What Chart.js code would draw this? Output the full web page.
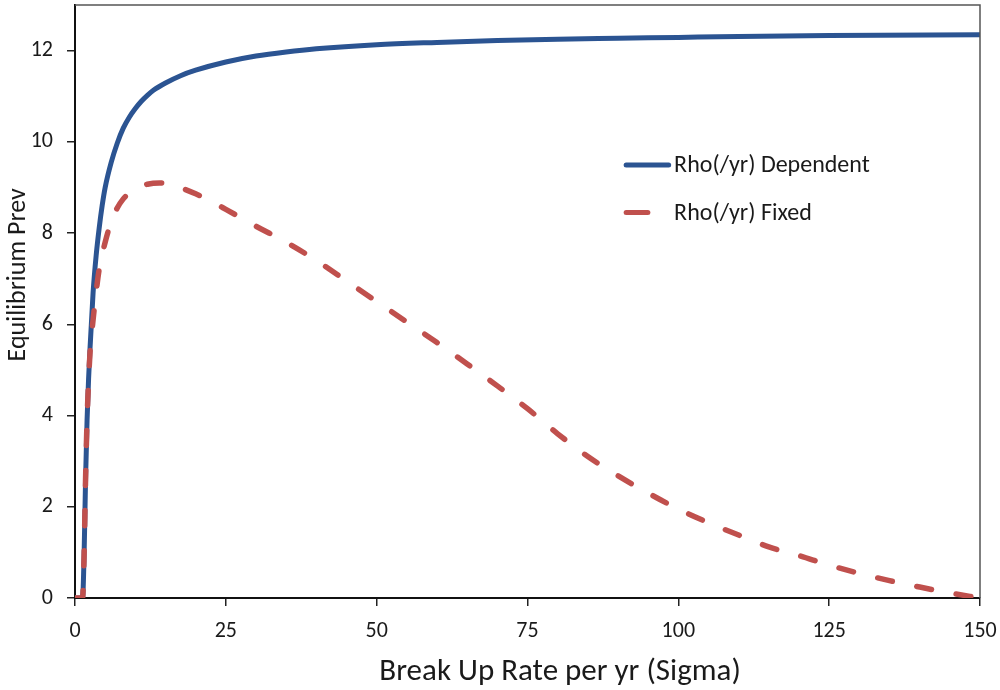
<!DOCTYPE html>
<html>
<head>
<meta charset="utf-8">
<script src="https://cdn.jsdelivr.net/npm/chart.js@4.4.1/dist/chart.umd.min.js"></script>
<style>
  html, body { margin: 0; padding: 0; background: #fff; }
  #wrap { width: 1000px; height: 690px; position: relative; }
</style>
</head>
<body>
<div id="wrap"><canvas id="c"></canvas></div>
<script>
// ---- data ----
const seriesNames = ["Rho(/yr) Dependent", "Rho(/yr) Fixed"];
const dependentX = [0, 1, 1.25, 1.5, 1.75, 2, 2.25, 2.5, 3, 3.5, 4, 4.5, 5, 6, 7, 8, 9, 10, 11, 12, 13, 15, 17.5, 20, 25, 30, 35, 40, 50, 60, 70, 80, 90, 100, 110, 125, 150];
const dependentY = [0, 0, 0, 0.9, 2.6, 3.9, 4.8, 5.5, 6.7, 7.5, 8.1, 8.6, 9.0, 9.55, 9.97, 10.3, 10.54, 10.73, 10.89, 11.02, 11.13, 11.29, 11.45, 11.57, 11.75, 11.88, 11.97, 12.04, 12.13, 12.18, 12.22, 12.25, 12.27, 12.29, 12.31, 12.33, 12.35];
const fixedX = [0, 1, 1.25, 1.5, 1.75, 2, 2.25, 2.5, 3, 3.5, 4, 5, 6, 7, 8, 9, 10, 12, 14, 16, 18, 20, 22.5, 25, 30, 35, 40, 45, 50, 55, 60, 65, 70, 75, 80, 85, 90, 95, 100, 105, 110, 115, 120, 125, 130, 135, 140, 145, 150];
const fixedY = [0, 0, 0, 0.9, 2.6, 3.9, 4.75, 5.4, 6.1, 6.7, 7.2, 7.8, 8.25, 8.55, 8.75, 8.88, 8.97, 9.07, 9.1, 9.07, 8.97, 8.86, 8.7, 8.52, 8.15, 7.8, 7.4, 6.95, 6.5, 6.05, 5.6, 5.13, 4.65, 4.15, 3.6, 3.1, 2.68, 2.3, 1.95, 1.65, 1.38, 1.12, 0.93, 0.72, 0.54, 0.38, 0.24, 0.11, 0];
const xTitle = "Break Up Rate per yr (Sigma)";
const yTitle = "Equilibrium Prev";
const xMin = 0, xMax = 150, xStep = 25;
const yMin = 0, yMax = 13, yStep = 2, yLastTick = 12;

const blue = "#2B5492";
const red = "#C0504D";
const textColor = "#1a1a1a";
const FONT = "Calibri, Carlito, Lato, sans-serif";

const toPts = (xs, ys) => xs.map((x, i) => ({x: x, y: ys[i]}));

const framePlugin = {
  id: "frame",
  afterDraw(chart) {
    const {ctx, chartArea: a} = chart;
    ctx.save();
    ctx.strokeStyle = "#555";
    ctx.lineWidth = 1.5;
    ctx.beginPath();
    ctx.moveTo(a.left, a.top);
    ctx.lineTo(a.right, a.top);
    ctx.lineTo(a.right, a.bottom);
    ctx.stroke();
    ctx.restore();
  }
};

const titlePlugin = {
  id: "axisTitles",
  afterDraw(chart) {
    const {ctx, chartArea: a} = chart;
    const w = a.right - a.left, h = a.bottom - a.top;
    ctx.save();
    ctx.fillStyle = textColor;
    ctx.textAlign = "center";
    ctx.textBaseline = "alphabetic";
    ctx.font = "31px " + FONT;
    ctx.fillText(xTitle, a.left + 0.536 * w, a.bottom + 82);
    ctx.translate(a.left - 50, a.top + 0.455 * h);
    ctx.rotate(-Math.PI / 2);
    ctx.font = "26px " + FONT;
    ctx.fillText(yTitle, 0, 0);
    ctx.restore();
  }
};

const legendPlugin = {
  id: "innerLegend",
  afterDraw(chart) {
    const {ctx, chartArea: a} = chart;
    const w = a.right - a.left, h = a.bottom - a.top;
    const x0 = a.left + 0.609 * w;
    const rows = [
      {name: seriesNames[0], color: blue, len: 0.047 * w, y: a.top + 0.27 * h},
      {name: seriesNames[1], color: red, len: 0.024 * w, y: a.top + 0.35 * h}
    ];
    ctx.save();
    ctx.font = "24px " + FONT;
    ctx.textBaseline = "middle";
    ctx.fillStyle = textColor;
    rows.forEach(r => {
      ctx.strokeStyle = r.color;
      ctx.lineWidth = 5;
      ctx.lineCap = "round";
      ctx.beginPath();
      ctx.moveTo(x0, r.y);
      ctx.lineTo(x0 + r.len, r.y);
      ctx.stroke();
      ctx.fillText(r.name, a.left + 0.662 * w, r.y + 1);
    });
    ctx.restore();
  }
};

new Chart(document.getElementById("c"), {
  type: "scatter",
  data: {
    datasets: [
      {
        label: seriesNames[0],
        data: toPts(dependentX, dependentY),
        showLine: true,
        borderColor: blue,
        backgroundColor: blue,
        borderWidth: 5,
        pointRadius: 0,
        cubicInterpolationMode: "monotone",
        order: 2
      },
      {
        label: seriesNames[1],
        data: toPts(fixedX, fixedY),
        showLine: true,
        borderColor: red,
        backgroundColor: red,
        borderWidth: 5.5,
        borderDash: [15, 25],
        borderCapStyle: "round",
        pointRadius: 0,
        cubicInterpolationMode: "monotone",
        order: 1
      }
    ]
  },
  options: {
    responsive: true,
    maintainAspectRatio: false,
    animation: false,
    events: [],
    layout: { padding: { left: 0, right: 20, top: 5, bottom: 0 } },
    plugins: {
      legend: { display: false },
      tooltip: { enabled: false }
    },
    scales: {
      x: {
        type: "linear",
        min: xMin, max: xMax,
        ticks: { stepSize: xStep, color: textColor, font: { family: FONT, size: 22 }, padding: 12, maxRotation: 0 },
        grid: { display: true, drawOnChartArea: false, drawTicks: true, tickLength: 8, color: "#222", lineWidth: 1.5 },
        border: { display: true, color: "#111", width: 2 },
        title: { display: false, text: xTitle },
        afterFit(scale) { scale.height = 92; scale.paddingLeft = 0; scale.paddingRight = 0; }
      },
      y: {
        type: "linear",
        min: yMin, max: yMax,
        ticks: { stepSize: yStep, color: textColor, font: { family: FONT, size: 22 }, padding: 14 },
        afterBuildTicks(scale) { scale.ticks = scale.ticks.filter(t => t.value <= yLastTick); },
        grid: { display: true, drawOnChartArea: false, drawTicks: true, tickLength: 8, color: "#222", lineWidth: 1.5 },
        border: { display: true, color: "#111", width: 2 },
        title: { display: false, text: yTitle },
        afterFit(scale) { scale.width = 75; scale.paddingTop = 0; scale.paddingBottom = 0; }
      }
    }
  },
  plugins: [framePlugin, legendPlugin, titlePlugin]
});
</script>
</body>
</html>
